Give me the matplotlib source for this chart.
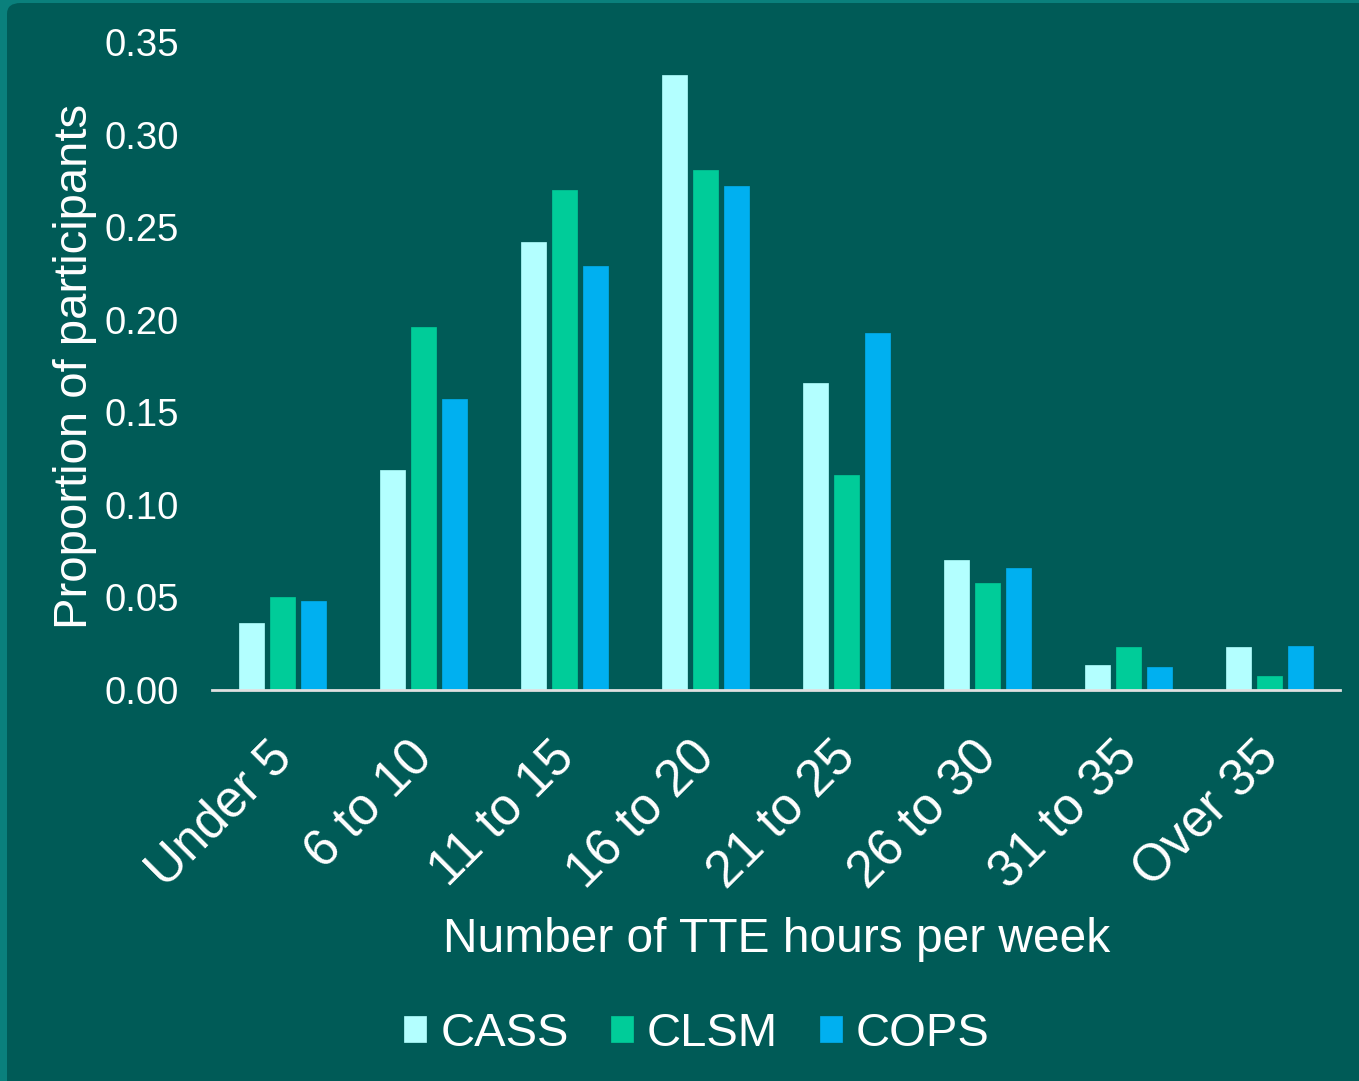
import matplotlib
matplotlib.use("Agg")
import matplotlib.pyplot as plt
import numpy as np
from matplotlib.patches import FancyBboxPatch
from matplotlib.transforms import ScaledTranslation

categories = ["Under 5", "6 to 10", "11 to 15", "16 to 20", "21 to 25", "26 to 30", "31 to 35", "Over 35"]
series_names = ["CASS", "CLSM", "COPS"]
cass = [0.036, 0.119, 0.242, 0.332, 0.166, 0.070, 0.0135, 0.023]
clsm = [0.050, 0.196, 0.270, 0.281, 0.116, 0.058, 0.023, 0.0076]
cops = [0.048, 0.157, 0.229, 0.272, 0.193, 0.066, 0.0124, 0.024]
yticks = [0.00, 0.05, 0.10, 0.15, 0.20, 0.25, 0.30, 0.35]

colors = ["#B3FFFF", "#00CC99", "#00B0F0"]
bg = "#005B57"
border = "#0A807C"

plt.rcParams['font.family'] = ['Liberation Sans', 'DejaVu Sans']

fig = plt.figure(figsize=(13.59, 10.81), dpi=100)
fig.patch.set_facecolor(border)
W, H = 1359, 1081
panel = FancyBboxPatch((7 / W, -0.05), 1.2, 1.05 - 3 / H,
                       boxstyle="round,pad=0,rounding_size=0.01",
                       transform=fig.transFigure, facecolor=bg, edgecolor='none', zorder=-10)
fig.patches.append(panel)

ax = fig.add_axes([212 / W, (H - 690) / H, (1340 - 212) / W, (690 - 42) / H])
ax.set_facecolor('none')

x = np.arange(len(categories))
bw = 0.177
pitch = 0.223
for i, (vals, name) in enumerate(zip([cass, clsm, cops], series_names)):
    ax.bar(x + (i - 1) * pitch, vals, width=bw, color=colors[i], label=name,
           edgecolor=colors[i], linewidth=0.5, zorder=2)

ax.set_xlim(-0.5, len(categories) - 0.5)
ax.set_ylim(0, 0.35)
ax.set_yticks(yticks)
ax.set_yticklabels([f"{v:.2f}" for v in yticks], fontsize=27.5, color='white')
ax.set_xticks(x)
ax.set_xticklabels(categories, fontsize=37, color='white', rotation=45,
                   ha='right', va='center', rotation_mode='anchor')
ax.tick_params(axis='both', length=0)
ax.tick_params(axis='y', pad=24)
ax.tick_params(axis='x', pad=28)
off = ScaledTranslation(2 / 100, -21 / 100, fig.dpi_scale_trans)
for lbl in ax.get_xticklabels():
    lbl.set_transform(lbl.get_transform() + off)
for s in ['top', 'right', 'left']:
    ax.spines[s].set_visible(False)
ax.spines['bottom'].set_color('#E0E0E0')
ax.spines['bottom'].set_linewidth(2)
ax.spines['bottom'].set_zorder(3)

ax.set_ylabel("Proportion of participants", fontsize=34, color='white')
ax.yaxis.set_label_coords(-115 / (1340 - 212), 0.5)
fig.text(777 / W, 1 - 939 / H, "Number of TTE hours per week", fontsize=34.5, color='white',
         ha='center', va='center')

leg = fig.legend(loc='center', bbox_to_anchor=(697 / W, 1 - 1034 / H), ncol=3,
                 frameon=False, fontsize=34, handlelength=0.47, handleheight=0.47,
                 handletextpad=0.3, columnspacing=0.88, labelcolor='white')

fig.savefig("out.png", dpi=100, facecolor=fig.get_facecolor())
